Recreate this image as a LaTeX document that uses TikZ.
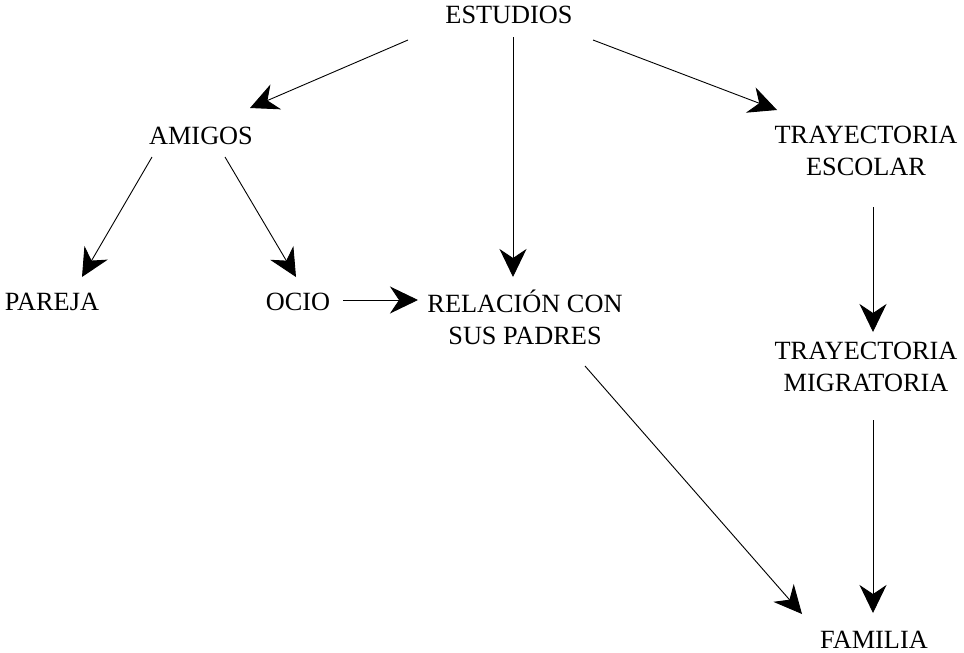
\documentclass[tikz,border=0pt]{standalone}
\usepackage{fontspec}
\setmainfont{Liberation Serif}
\usetikzlibrary{arrows.meta}

\begin{document}
\begin{tikzpicture}[
    x=1pt, y=-1pt,
    lbl/.style  ={font=\fontsize{26.3pt}{32pt}\selectfont, align=center, inner sep=0pt},
    arrow/.style={-{Stealth[length=28pt,width=27pt,inset=9pt]}, line width=0.9pt},
]
\useasboundingbox (0,0) rectangle (964,653);

% ---------- Nodes ----------
\node[lbl] (EST) at (509,15)  {ESTUDIOS};
\node[lbl] (AMI) at (201,136) {AMIGOS};
\node[lbl] (TRE) at (866,151) {TRAYECTORIA\\ESCOLAR};
\node[lbl] (PAR) at (52,302)  {PAREJA};
\node[lbl] (OCI) at (298,302) {OCIO};
\node[lbl] (REL) at (525,317) {RELACIÓN CON\\SUS PADRES};
\node[lbl] (TRM) at (866,367) {TRAYECTORIA\\MIGRATORIA};
\node[lbl] (FAM) at (874,640) {FAMILIA};

% ---------- Arrows ----------
\draw[arrow] ([shift={(-101,25)}]EST.center) -- ([shift={(49,-28)}]AMI.center);
\draw[arrow] ([shift={(4,22)}]EST.center)    -- ([shift={(-12,-40)}]REL.center);
\draw[arrow] ([shift={(84,25)}]EST.center)   -- ([shift={(-89,-41)}]TRE.center);

\draw[arrow] ([shift={(-49,21)}]AMI.center)  -- ([shift={(30,-25)}]PAR.center);
\draw[arrow] ([shift={(24,21)}]AMI.center)   -- ([shift={(-2,-25)}]OCI.center);
\draw[arrow] ([shift={(45,-2)}]OCI.center)   -- ([shift={(-107,-17)}]REL.center);

\draw[arrow] ([shift={(7,56)}]TRE.center)    -- ([shift={(7,-35)}]TRM.center);
\draw[arrow] ([shift={(60,49)}]REL.center)   -- ([shift={(-72,-26)}]FAM.center);
\draw[arrow] ([shift={(7,53)}]TRM.center)    -- ([shift={(-1,-27)}]FAM.center);

\end{tikzpicture}
\end{document}
